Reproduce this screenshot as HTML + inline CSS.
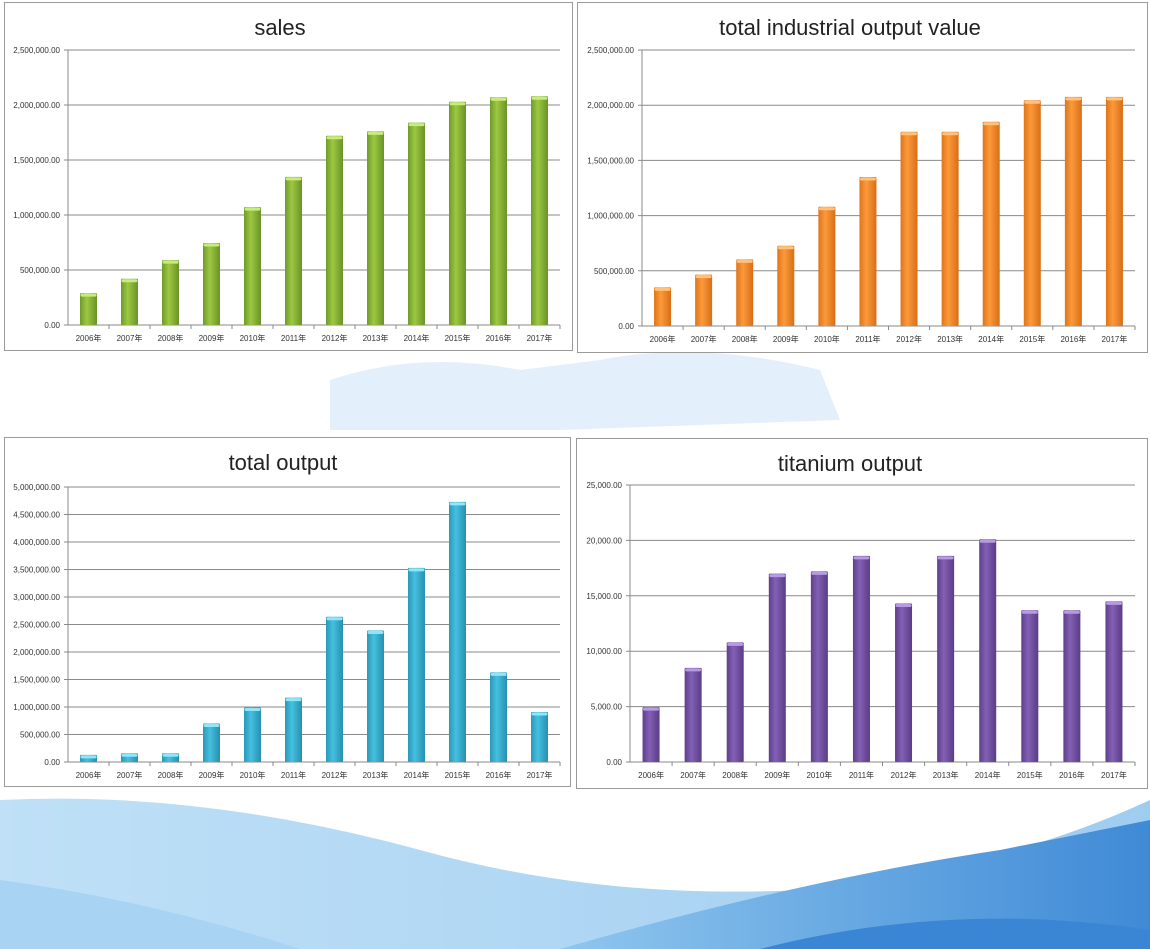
<!DOCTYPE html>
<html><head><meta charset="utf-8">
<style>
html,body{margin:0;padding:0;background:#fff;width:1150px;height:949px;overflow:hidden}
svg{display:block}
text{font-family:"Liberation Sans","Noto Sans CJK SC",sans-serif}
</style></head>
<body>
<svg id="s" width="1150" height="949" xmlns="http://www.w3.org/2000/svg">
<defs>
<linearGradient id="gG" x1="0" x2="1"><stop offset="0" stop-color="#6f9a2a"/><stop offset=".4" stop-color="#9cc842"/><stop offset="1" stop-color="#6a9228"/></linearGradient>
<linearGradient id="gO" x1="0" x2="1"><stop offset="0" stop-color="#e0741a"/><stop offset=".4" stop-color="#fb9a3a"/><stop offset="1" stop-color="#d86e18"/></linearGradient>
<linearGradient id="gB" x1="0" x2="1"><stop offset="0" stop-color="#2a98b8"/><stop offset=".4" stop-color="#46c0e0"/><stop offset="1" stop-color="#2690b0"/></linearGradient>
<linearGradient id="gP" x1="0" x2="1"><stop offset="0" stop-color="#5e3f8c"/><stop offset=".4" stop-color="#8360b4"/><stop offset="1" stop-color="#5a3c86"/></linearGradient>
<linearGradient id="w1" x1="0" x2="1"><stop offset="0" stop-color="#bfe0f7"/><stop offset="1" stop-color="#9fcdf0"/></linearGradient>
<linearGradient id="w2" x1="0" x2="1"><stop offset="0" stop-color="#8fc6ee"/><stop offset="1" stop-color="#3f8ad6"/></linearGradient>
</defs>
<!-- background map blobs -->
<path d="M330 380 Q420 350 520 370 L600 360 Q700 340 820 370 L840 420 L560 430 L330 430Z" fill="#e3f0fb"/>
<!-- waves -->
<path d="M0 800 Q200 790 420 850 Q600 900 800 890 Q1000 870 1150 800 L1150 949 L0 949Z" fill="url(#w1)"/>
<path d="M0 880 Q150 900 300 949 L0 949Z" fill="#a9d3f3"/>
<path d="M560 949 Q800 880 1000 850 Q1100 830 1150 820 L1150 949Z" fill="url(#w2)"/>
<path d="M760 949 Q950 900 1150 930 L1150 949Z" fill="#3a86d4"/>
<g id="charts"></g>
</svg>
<script>
var yrs=[];for(var i=2006;i<=2017;i++)yrs.push(i+"年");
var C=[
{bx:4,by:2,bw:568,bh:348,px0:68,px1:560,py0:50,py1:325,title:"sales",tx:280,max:2500000,step:500000,fill:"url(#gG)",top:"#c8ec7a",
 d:[290000,420000,590000,745000,1072000,1347000,1720000,1760000,1840000,2030000,2070000,2080000]},
{bx:577,by:2,bw:570,bh:350,px0:642,px1:1135,py0:50,py1:326,title:"total industrial output value",tx:850,max:2500000,step:500000,fill:"url(#gO)",top:"#ffc27a",
 d:[350000,465000,603000,727000,1080000,1350000,1760000,1760000,1850000,2045000,2075000,2075000]},
{bx:4,by:437,bw:566,bh:349,px0:68,px1:560,py0:487,py1:762,title:"total output",tx:283,max:5000000,step:500000,fill:"url(#gB)",top:"#8fe6f8",
 d:[130000,160000,160000,700000,990000,1170000,2640000,2390000,3530000,4730000,1630000,910000]},
{bx:576,by:438,bw:571,bh:350,px0:630,px1:1135,py0:485,py1:762,title:"titanium output",tx:850,max:25000,step:5000,fill:"url(#gP)",top:"#b79ae6",
 d:[4950,8500,10800,17000,17200,18600,14300,18600,20100,13700,13700,14500]}
];
function fmt(v){var s=Math.round(v).toString().replace(/\B(?=(\d{3})+(?!\d))/g,",");return s+".00";}
var h="";
C.forEach(function(c){
 h+='<rect x="'+(c.bx+.5)+'" y="'+(c.by+.5)+'" width="'+c.bw+'" height="'+c.bh+'" fill="rgba(255,255,255,0.93)" stroke="#9a9a9a"/>';
 h+='<text x="'+c.tx+'" y="'+(c.by+33)+'" font-size="22" fill="#222" text-anchor="middle">'+c.title+'</text>';
 var n=c.max/c.step;
 for(var k=0;k<=n;k++){var y=c.py1-(c.py1-c.py0)*k/n;
  h+='<line x1="'+(c.px0-4)+'" x2="'+c.px1+'" y1="'+y+'" y2="'+y+'" stroke="'+(k?"#8a8a8a":"#8a8a8a")+'"/>';
  h+='<text x="'+(c.px0-8)+'" y="'+(y+3)+'" font-size="8" fill="#333" text-anchor="end">'+fmt(c.step*k)+'</text>';}
 h+='<line x1="'+c.px0+'" x2="'+c.px0+'" y1="'+c.py0+'" y2="'+c.py1+'" stroke="#8a8a8a"/>';
 var cw=(c.px1-c.px0)/12;
 for(var j=0;j<12;j++){
  var cx=c.px0+cw*(j+.5),bh=(c.py1-c.py0)*c.d[j]/c.max,y=c.py1-bh;
  h+='<rect x="'+(cx-8.5)+'" y="'+y+'" width="17" height="'+bh+'" fill="'+c.fill+'" rx="1"/>';
  h+='<rect x="'+(cx-8)+'" y="'+(y+0.5)+'" width="16" height="3" fill="'+c.top+'" rx="1.5"/>';
  h+='<line x1="'+(c.px0+cw*(j+1))+'" x2="'+(c.px0+cw*(j+1))+'" y1="'+c.py1+'" y2="'+(c.py1+4)+'" stroke="#8a8a8a"/>';
  h+='<text x="'+cx+'" y="'+(c.py1+16)+'" font-size="8" fill="#333" text-anchor="middle">'+yrs[j]+'</text>';
 }
});
document.getElementById("charts").innerHTML=h;
</script>
</body></html>
